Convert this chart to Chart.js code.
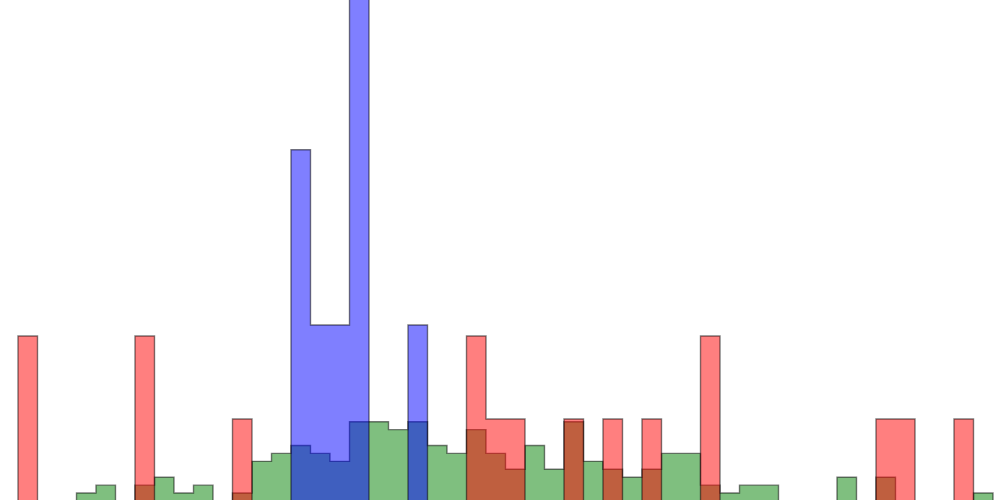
<!DOCTYPE html>
<html>
<head>
<meta charset="utf-8">
<title>Overlapping histograms</title>
<script src="https://cdn.jsdelivr.net/npm/chart.js@4/dist/chart.umd.min.js"></script>
<style>
  html, body { margin: 0; padding: 0; background: #ffffff; }
  #wrap { width: 1000px; height: 500px; position: relative; }
</style>
</head>
<body>
<div id="wrap"><canvas id="histChart"></canvas></div>
<script>
// bin edges (bin index), 50 bins
const binEdges = [
  0, 1, 2, 3, 4, 5, 6, 7, 8, 9,
  10, 11, 12, 13, 14, 15, 16, 17, 18, 19,
  20, 21, 22, 23, 24, 25, 26, 27, 28, 29,
  30, 31, 32, 33, 34, 35, 36, 37, 38, 39,
  40, 41, 42, 43, 44, 45, 46, 47, 48, 49, 50
]

// bar heights per bin
const greenHeights = [
  0, 0, 0, 1, 2, 0, 2, 3, 1, 2,
  0, 1, 5, 6, 7, 6, 5, 10, 10, 9,
  10, 7, 6, 9, 6, 4, 7, 4, 10, 5,
  4, 3, 4, 6, 6, 2, 1, 2, 2, 0,
  0, 0, 3, 0, 3, 0, 0, 0, 0, 1
]

const redHeights = [
  20.8, 0, 0, 0, 0, 0, 20.8, 0, 0, 0,
  0, 10.35, 0, 0, 0, 0, 0, 0, 0, 0,
  0, 0, 0, 20.8, 10.35, 10.35, 0, 0, 10.35, 0,
  10.35, 0, 10.35, 0, 0, 20.8, 0, 0, 0, 0,
  0, 0, 0, 0, 10.35, 10.35, 0, 0, 10.35, 0
]

const blueHeights = [
  0, 0, 0, 0, 0, 0, 0, 0, 0, 0,
  0, 0, 0, 0, 44.3, 22.2, 22.2, 66.5, 0, 0,
  22.2, 0, 0, 0, 0, 0, 0, 0, 0, 0,
  0, 0, 0, 0, 0, 0, 0, 0, 0, 0,
  0, 0, 0, 0, 0, 0, 0, 0, 0, 0
]

// step outline: start at the baseline, one point per left edge, close at the last edge
function stepPoints(heights) {
  const pts = [{ x: binEdges[0], y: 0 }]
  heights.forEach((h, i) => pts.push({ x: binEdges[i], y: h }))
  pts.push({ x: binEdges[binEdges.length - 1], y: 0 })
  return pts
}

function stepDataset(label, heights, fill, order) {
  return {
    label: label,
    data: stepPoints(heights),
    stepped: 'before', // horizontal at the previous height, then vertical
    fill: 'origin',
    backgroundColor: fill,
    borderColor: 'rgba(0, 0, 0, 0.5)',
    borderWidth: 1.4,
    pointRadius: 0,
    order: order
  }
}

const ctx = document.getElementById('histChart').getContext('2d')

new Chart(ctx, {
  type: 'line',
  data: {
    datasets: [
      stepDataset('blue', blueHeights, 'rgba(0, 0, 255, 0.5)', 1),
      stepDataset('red', redHeights, 'rgba(255, 0, 0, 0.5)', 2),
      stepDataset('green', greenHeights, 'rgba(0, 128, 0, 0.5)', 3)
    ]
  },
  options: {
    responsive: true,
    maintainAspectRatio: false,
    animation: false,
    layout: { padding: 0 },
    scales: {
      x: {
        type: 'linear',
        display: false,
        min: -0.923,
        max: 50.359
      },
      y: {
        type: 'linear',
        display: false,
        min: 0.126,
        max: 63.18
      }
    },
    plugins: {
      legend: { display: false },
      tooltip: { enabled: false }
    }
  }
})
</script>
</body>
</html>
